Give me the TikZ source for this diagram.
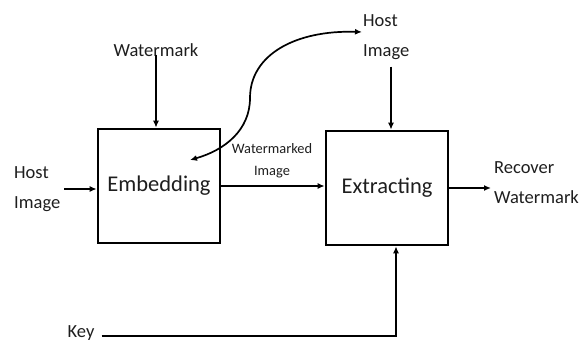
\documentclass[tikz,border=0pt]{standalone}
\usepackage{fontspec}
\setmainfont{Carlito}
\usetikzlibrary{arrows.meta}
\definecolor{ink}{HTML}{1E1E1E}
\tikzset{
  blockbox/.style={draw=black, line width=2.6pt, minimum width=122pt, minimum height=114pt,
    inner sep=0pt, font=\fontsize{22.5}{27}\selectfont, text=ink},
  lbl/.style={font=\fontsize{18.5}{30}\selectfont, text=ink, inner sep=1pt, align=left},
  smalllbl/.style={font=\fontsize{14.4}{22}\selectfont, text=ink, inner sep=1pt, align=center},
  arr/.style={line width=2pt, -{Latex[length=7pt,width=6pt]}},
  curvearr/.style={line width=1.7pt, {Latex[length=7pt,width=6pt]}-{Latex[length=7pt,width=6pt]}}
}
\begin{document}
\begin{tikzpicture}[x=1pt,y=-1pt]
\useasboundingbox (0,0) rectangle (581,344);

% processing blocks
\node[blockbox] (emb) at (159,186) {Embedding};
\node[blockbox] (ext) at (387,188) {Extracting};

% labels
\node[lbl, anchor=west] (hostL) at (13,189) {Host\\Image};
\node[lbl] (wm) at (156,50) {Watermark};
\node[lbl, anchor=west] (hostT) at (362,37) {Host\\Image};
\node[smalllbl] (wmimg) at (272,161) {Watermarked\\Image};
\node[lbl, anchor=west] (rec) at (493,183) {Recover\\Watermark};
\node[lbl] (key) at (81,333) {Key};

% connectors
\draw[arr] ([xshift=3pt]hostL.east) -- (hostL.east -| emb.west);
\draw[arr] (wm.south) ++(0,-3) -- (wm.south |- emb.north);
\draw[arr] (emb.east) -- (emb.east -| ext.west);
\draw[arr] (ext.east) -- ([xshift=-2pt]ext.east -| rec.west);
\draw[arr] ([xshift=4pt,yshift=-6pt]hostT.south -| ext.north) -- ([xshift=4pt]ext.north);
\draw[arr] ([xshift=6pt,yshift=-3pt]key.east) -| ([xshift=9pt]ext.south);

% double-headed curve between the embedding block and the host image
\coordinate (wmin) at (190,160);
\draw[curvearr] (wmin) .. controls (225,150) and (250,130) .. (250,98)
  .. controls (250,55) and (295,30) .. ([yshift=5pt]hostT.west);
\end{tikzpicture}
\end{document}
